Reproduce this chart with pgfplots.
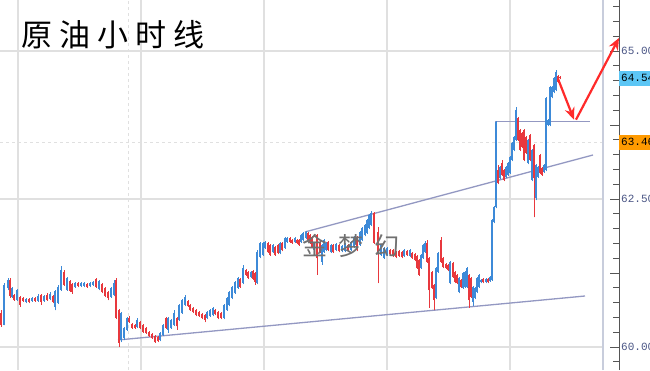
\documentclass[border=0pt]{standalone}
\usepackage{pgfplots}
\pgfplotsset{compat=1.18}
\usepackage{pgfplotstable}
\usetikzlibrary{arrows.meta}
\usepackage{fontspec}
\newfontfamily\cjk{Noto Sans CJK SC}
\setmonofont{Liberation Mono}
\definecolor{cblue}{HTML}{3D8AD8}
\definecolor{cred}{HTML}{E8383D}
\definecolor{gridc}{HTML}{E0E0E0}
\definecolor{trendc}{HTML}{9398C2}
\definecolor{labelc}{HTML}{4A5585}
\definecolor{axisc}{HTML}{555555}
\definecolor{borderc}{HTML}{C8CDDC}
\definecolor{arrowc}{HTML}{FF2A2A}
\definecolor{boxblue}{HTML}{5CC6F5}
\definecolor{boxorange}{HTML}{FF9A00}
\definecolor{wmark}{HTML}{707070}

\pgfplotstableread{
x bl bh wl wh
4 60.37 61.05 60.37 61.08
8 61.00 61.13 60.96 61.17
12 60.84 61.00 60.83 61.01
17 60.79 60.96 60.78 60.98
26 60.76 60.81 60.74 60.83
32 60.78 60.83 60.76 60.84
38 60.78 60.86 60.76 60.90
44 60.78 60.86 60.76 60.88
50 60.81 60.90 60.79 60.93
55 60.68 60.95 60.62 60.96
58 60.74 61.01 60.73 61.05
61 60.96 61.30 60.95 61.37
67 60.96 61.17 60.95 61.18
75 61.01 61.08 61.00 61.10
81 61.03 61.08 61.01 61.10
84 61.03 61.08 61.01 61.10
90 61.03 61.08 61.01 61.10
93 61.05 61.10 61.03 61.12
99 60.98 61.12 60.96 61.13
111 60.84 61.00 60.83 61.01
114 60.88 61.08 60.86 61.13
121 60.12 60.57 60.08 60.59
124 60.15 60.32 60.12 60.34
127 60.29 60.49 60.27 60.51
137 60.34 60.46 60.32 60.49
160 60.12 60.24 60.10 60.25
163 60.20 60.37 60.19 60.39
168 60.29 60.49 60.24 60.51
171 60.32 60.46 60.31 60.47
174 60.37 60.57 60.36 60.62
179 60.46 60.71 60.44 60.73
182 60.57 60.79 60.56 60.81
185 60.71 60.84 60.69 60.88
207 60.49 60.59 60.47 60.61
210 60.52 60.62 60.51 60.64
213 60.54 60.66 60.52 60.68
224 60.49 60.71 60.47 60.73
227 60.62 60.83 60.61 60.84
229 60.71 60.93 60.69 60.95
232 60.83 61.01 60.81 61.03
235 60.91 61.10 60.90 61.12
238 61.00 61.17 60.98 61.18
243 61.08 61.33 61.06 61.39
251 61.18 61.27 61.17 61.28
257 61.08 61.60 61.06 61.64
260 61.52 61.76 61.50 61.77
263 61.55 61.76 61.54 61.77
265 61.67 61.77 61.66 61.79
273 61.60 61.72 61.59 61.74
280 61.59 61.76 61.57 61.77
285 61.67 61.84 61.66 61.86
287 61.77 61.84 61.76 61.86
295 61.77 61.84 61.76 61.86
301 61.77 61.89 61.76 61.91
303 61.81 61.92 61.79 61.94
306 61.84 61.94 61.82 61.96
314 61.64 61.76 61.62 61.77
322 61.44 61.72 61.39 61.74
324 61.60 61.81 61.59 61.82
326 61.64 61.76 61.62 61.77
331 61.60 61.72 61.59 61.74
336 61.64 61.74 61.62 61.76
342 61.62 61.71 61.60 61.72
345 61.62 61.74 61.60 61.76
351 61.64 61.77 61.62 61.79
354 61.69 61.86 61.67 61.87
360 61.72 61.94 61.71 61.96
362 61.81 62.01 61.79 62.03
365 61.89 62.06 61.87 62.08
367 61.92 62.14 61.91 62.16
369 62.01 62.23 61.99 62.24
371 62.06 62.26 62.04 62.30
381 61.55 61.72 61.54 61.74
384 61.50 61.67 61.49 61.69
387 61.55 61.67 61.54 61.69
404 61.54 61.64 61.52 61.66
410 61.54 61.64 61.52 61.66
421 61.33 61.55 61.32 61.57
423 61.50 61.72 61.49 61.74
425 61.60 61.76 61.59 61.79
436 60.83 61.33 60.81 61.35
438 61.27 61.59 61.25 61.60
450 61.08 61.44 61.06 61.45
459 60.93 61.17 60.91 61.18
463 61.00 61.25 60.98 61.27
465 61.01 61.27 61.00 61.28
467 61.01 61.33 61.00 61.35
473 60.76 61.01 60.69 61.03
475 60.83 61.00 60.81 61.01
477 60.93 61.17 60.91 61.18
479 61.01 61.22 61.00 61.23
481 61.10 61.13 61.08 61.15
486 61.10 61.15 61.08 61.17
490 61.12 61.18 61.10 61.20
492 61.13 62.14 61.12 62.16
494 62.11 62.36 62.09 62.38
496 62.36 63.80 62.34 63.82
500 62.85 63.04 62.84 63.06
506 62.87 63.04 62.86 63.06
508 62.91 63.11 62.89 63.12
510 62.94 63.21 62.93 63.22
512 63.16 63.45 63.14 63.47
514 63.33 63.55 63.31 63.57
516 63.50 64.00 63.48 64.05
528 63.11 63.50 63.09 63.52
532 62.82 63.33 62.80 63.35
536 62.52 63.07 62.48 63.09
538 62.87 63.04 62.86 63.06
544 62.96 63.07 62.94 63.09
546 62.99 64.20 62.97 64.22
548 63.75 63.83 63.73 63.85
550 63.75 64.39 63.73 64.41
552 64.22 64.39 64.20 64.41
554 64.31 64.54 64.29 64.56
556 64.34 64.64 64.32 64.68
}\bluedata

\pgfplotstableread{
x bl bh wl wh
1 60.37 60.57 60.34 60.62
10 60.86 61.13 60.83 61.17
14 60.79 60.88 60.78 60.90
20 60.71 60.84 60.68 60.86
23 60.78 60.83 60.76 60.84
29 60.76 60.81 60.74 60.83
35 60.78 60.83 60.76 60.84
41 60.76 60.88 60.71 60.90
47 60.79 60.88 60.78 60.91
53 60.76 60.86 60.74 60.88
64 61.05 61.27 61.03 61.30
70 60.95 61.12 60.93 61.13
72 60.93 61.06 60.90 61.08
78 61.03 61.08 61.01 61.10
87 61.01 61.06 61.00 61.08
96 61.01 61.15 61.00 61.17
102 60.93 61.06 60.91 61.08
105 60.86 61.00 60.84 61.01
108 60.83 60.93 60.79 60.95
116 60.49 61.13 60.47 61.17
119 60.07 60.62 60.00 60.64
129 60.42 60.49 60.41 60.52
132 60.32 60.39 60.31 60.41
135 60.32 60.37 60.31 60.39
140 60.32 60.42 60.31 60.44
143 60.25 60.37 60.24 60.39
146 60.24 60.32 60.22 60.34
149 60.19 60.25 60.17 60.27
152 60.15 60.22 60.14 60.24
155 60.08 60.19 60.07 60.20
158 60.10 60.17 60.08 60.19
166 60.32 60.49 60.31 60.51
177 60.35 60.49 60.29 60.51
188 60.69 60.78 60.68 60.79
190 60.62 60.71 60.61 60.73
193 60.59 60.66 60.57 60.68
196 60.54 60.62 60.52 60.64
199 60.52 60.59 60.51 60.61
202 60.49 60.56 60.47 60.57
205 60.46 60.54 60.42 60.56
215 60.56 60.62 60.54 60.64
218 60.49 60.59 60.47 60.61
221 60.49 60.57 60.47 60.59
240 61.01 61.15 61.00 61.17
246 61.22 61.30 61.20 61.32
248 61.17 61.27 61.15 61.28
253 61.15 61.28 61.13 61.30
255 61.10 61.25 61.05 61.27
268 61.60 61.76 61.59 61.77
270 61.55 61.72 61.54 61.74
275 61.55 61.69 61.54 61.71
278 61.59 61.72 61.57 61.74
282 61.64 61.76 61.62 61.77
290 61.77 61.84 61.76 61.86
292 61.76 61.81 61.74 61.82
297 61.76 61.81 61.74 61.82
299 61.72 61.81 61.71 61.82
308 61.81 61.92 61.79 61.94
310 61.76 61.89 61.74 61.91
312 61.69 61.86 61.67 61.87
317 61.50 61.89 61.22 61.91
320 61.60 61.77 61.59 61.79
328 61.64 61.77 61.62 61.79
333 61.60 61.72 61.59 61.74
339 61.62 61.72 61.60 61.74
348 61.64 61.72 61.62 61.74
357 61.64 61.86 61.62 61.87
374 61.76 62.26 61.74 62.28
378 61.60 61.94 61.08 62.03
390 61.57 61.64 61.55 61.66
393 61.54 61.64 61.52 61.66
396 61.52 61.60 61.50 61.62
399 61.54 61.62 61.52 61.64
402 61.52 61.60 61.50 61.62
407 61.55 61.62 61.54 61.64
412 61.50 61.59 61.49 61.60
415 61.47 61.57 61.45 61.59
417 61.33 61.54 61.32 61.55
419 61.22 61.47 61.20 61.49
427 61.44 61.76 61.42 61.81
429 60.96 61.50 60.66 61.52
432 61.00 61.27 60.98 61.28
434 60.79 61.05 60.62 61.06
441 61.44 61.81 61.42 61.86
443 61.35 61.50 61.33 61.52
446 61.33 61.40 61.32 61.42
448 61.30 61.39 61.28 61.40
453 61.18 61.42 61.17 61.44
455 61.10 61.27 61.08 61.28
457 61.08 61.22 61.06 61.23
461 61.01 61.13 61.00 61.15
469 60.79 61.22 60.66 61.23
471 60.84 61.17 60.83 61.18
483 61.10 61.15 61.08 61.17
488 61.10 61.15 61.08 61.17
498 62.77 62.99 62.75 63.07
502 62.91 63.11 62.89 63.16
504 62.82 62.99 62.80 63.01
518 63.50 63.87 63.48 63.89
520 63.33 63.67 63.31 63.69
522 63.38 63.61 63.36 63.63
524 63.16 63.67 63.14 63.69
526 63.28 63.55 63.26 63.57
530 63.16 63.58 63.14 63.60
534 62.85 63.41 62.19 63.43
540 62.94 63.24 62.93 63.26
542 62.91 63.02 62.89 63.04
558 64.48 64.58 64.46 64.59
560 64.54 64.56 64.52 64.57
}\reddata

\begin{document}
\begin{tikzpicture}
\path[use as bounding box] (0,0) rectangle (650pt,370pt);
\clip (0,0) rectangle (650pt,370pt);
\fill[white] (0,0) rectangle (650pt,370pt);
\begin{axis}[
  at={(0,0)}, anchor=south west,
  scale only axis, width=619pt, height=370pt,
  xmin=0, xmax=619, ymin=59.611, ymax=65.861,
  enlargelimits=false, clip=false,
  axis x line=none, axis y line*=right,
  axis line style={color=axisc, line width=0.9pt},
  ytick={60,61.25,62.5,63.75,65},
  yticklabels={\mbox{\ttfamily 60.00},{},\mbox{\ttfamily 62.50},{},\mbox{\ttfamily 65.00}},
  minor ytick={59.75,60.25,60.5,60.75,61,61.5,61.75,62,62.25,62.75,63,63.25,63.5,64,64.25,64.5,64.75,65.25,65.5,65.75},
  tick align=inside,
  major tick length=9pt, minor tick length=6pt,
  every tick/.style={color=axisc, line width=0.9pt},
  yticklabel style={anchor=west, inner xsep=2pt, text=labelc, font=\fontsize{11}{12}\selectfont},
  candle/.style={only marks, mark=*, mark size=0pt, mark options={draw=none, fill=none}, forget plot},
]
% grid
\draw[gridc, line width=1.2pt] (axis cs:0,60) -- (axis cs:603,60);
\draw[gridc, line width=1.2pt] (axis cs:0,62.5) -- (axis cs:603,62.5);
\draw[gridc, line width=1.2pt] (axis cs:0,65) -- (axis cs:603,65);
\draw[gridc, line width=1pt, dashed] (axis cs:0,63.46) -- (axis cs:603,63.46);
\draw[gridc, line width=1.2pt] (axis cs:18,59.611) -- (axis cs:18,65.861);
\draw[gridc, line width=1.2pt] (axis cs:141,59.611) -- (axis cs:141,65.861);
\draw[gridc, line width=1.2pt] (axis cs:264,59.611) -- (axis cs:264,65.861);
\draw[gridc, line width=1.2pt] (axis cs:387,59.611) -- (axis cs:387,65.861);
\draw[gridc, line width=1.2pt] (axis cs:510,59.611) -- (axis cs:510,65.861);
\draw[gridc, line width=1pt, dashed] (axis cs:128,59.611) -- (axis cs:128,65.861);
\draw[borderc, line width=2pt] (axis cs:603,59.611) -- (axis cs:603,65.861);

% trend lines
\addplot[trendc, line width=1.3pt, forget plot] coordinates {(118,60.118) (585,60.861)};
\addplot[trendc, line width=1.3pt, forget plot] coordinates {(305,61.943) (593,63.243)};
\addplot[trendc, line width=1.3pt, forget plot] coordinates {(495,63.809) (590,63.809)};

% candle wicks and bodies
\addplot[candle,
  error bars/.cd, y dir=plus, y explicit, error mark=none,
  error bar style={line width=0.8pt, draw=cblue}]
  table[x=x, y=wl, y error plus expr=\thisrow{wh}-\thisrow{wl}] {\bluedata};
\addplot[candle,
  error bars/.cd, y dir=plus, y explicit, error mark=none,
  error bar style={line width=2pt, draw=cblue, line cap=butt}]
  table[x=x, y=bl, y error plus expr=\thisrow{bh}-\thisrow{bl}] {\bluedata};
\addplot[candle,
  error bars/.cd, y dir=plus, y explicit, error mark=none,
  error bar style={line width=0.8pt, draw=cred}]
  table[x=x, y=wl, y error plus expr=\thisrow{wh}-\thisrow{wl}] {\reddata};
\addplot[candle,
  error bars/.cd, y dir=plus, y explicit, error mark=none,
  error bar style={line width=2pt, draw=cred, line cap=butt}]
  table[x=x, y=bl, y error plus expr=\thisrow{bh}-\thisrow{bl}] {\reddata};

% title and watermark
\node[anchor=center, text=black] at (axis cs:113,65.27)
  {\cjk\fontsize{31}{34}\selectfont 原\hspace{7pt}油\hspace{7pt}小\hspace{7pt}时\hspace{7pt}线};
\node[anchor=center, text=wmark] at (axis cs:351,61.71)
  {\cjk\fontsize{25}{27}\selectfont 金\hspace{11pt}梦\hspace{11pt}幻};

% arrows
\draw[arrowc, line width=2.2pt, -{Stealth[length=12pt,width=10pt]}] (axis cs:558,64.53) -- (axis cs:574,63.84);
\draw[arrowc, line width=2.2pt, -{Stealth[length=12pt,width=10pt]}] (axis cs:576,63.84) -- (axis cs:619,65.22);

% price boxes
\node[anchor=west, fill=boxblue, inner xsep=2pt, inner ysep=0pt, minimum height=15pt, text=black,
  font=\fontsize{11}{12}\selectfont\ttfamily] at (axis cs:619,64.54) {64.54};
\node[anchor=west, fill=boxorange, inner xsep=2pt, inner ysep=0pt, minimum height=15pt, text=black,
  font=\fontsize{11}{12}\selectfont\ttfamily] at (axis cs:619,63.46) {63.46};
\end{axis}
\end{tikzpicture}
\end{document}
